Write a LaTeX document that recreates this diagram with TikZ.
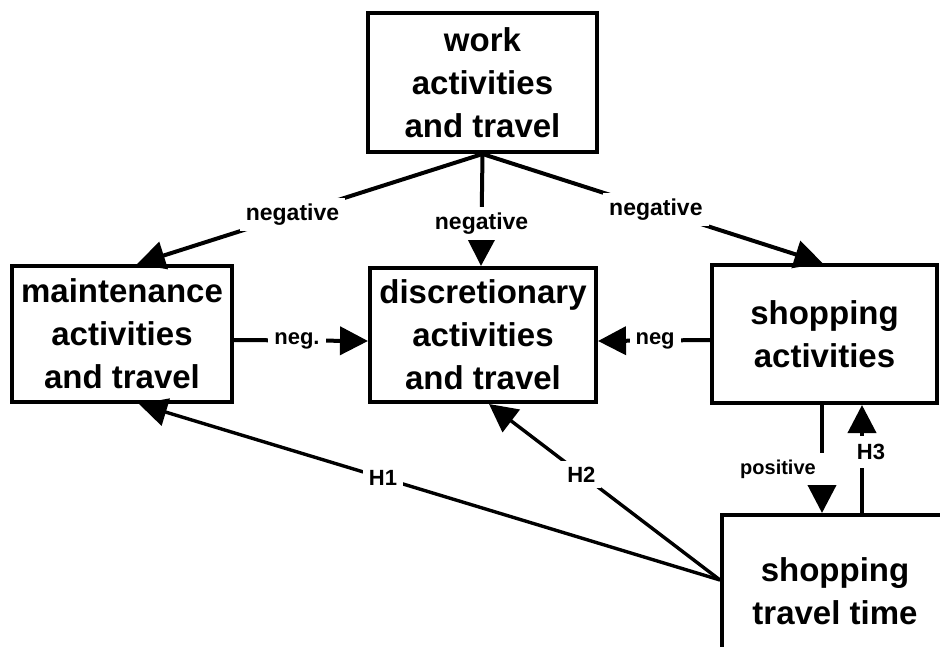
\documentclass[tikz,border=0pt]{standalone}
\usepackage{fontspec}
\setmainfont{Liberation Sans}
\usetikzlibrary{arrows.meta,calc}
\begin{document}
\begin{tikzpicture}[x=1pt,y=-1pt,
  box/.style={draw=black,line width=4pt,align=center,inner sep=0pt,
    font=\fontsize{33}{43}\selectfont\bfseries},
  arr/.style={line width=4pt,-{Triangle[length=28pt,width=28pt]}},
  harr/.style={line width=3.4pt,-{Triangle[length=28pt,width=28pt]}},
  lab/.style={fill=white,inner xsep=6pt,inner ysep=6pt,
    font=\fontsize{22}{24}\selectfont\bfseries}]
\useasboundingbox (0,0) rectangle (940,646);
\clip (0,0) rectangle (940,646);
\fill[white] (0,0) rectangle (940,646);

\node[box,minimum width=229pt,minimum height=139pt] (w) at (482.5,82.5) {work\\activities\\and travel};
\node[box,minimum width=220pt,minimum height=136pt] (m) at (122,334) {maintenance\\activities\\and travel};
\node[box,minimum width=226pt,minimum height=134pt] (d) at (483,335) {discretionary\\activities\\and travel};
\node[box,minimum width=225pt,minimum height=138pt] (s) at (824.5,334) {shopping\\activities};
\node[box,minimum width=226pt,minimum height=152pt] (t) at (835,591) {shopping\\travel time};

\coordinate (hub) at ([yshift=11pt]t.west);

\draw[arr] (w.south) -- node[lab,pos=0.55,font=\fontsize{23}{24}\selectfont\bfseries] {negative} ([xshift=15pt]m.north);
\draw[arr] (w.south) -- node[lab,pos=0.62,font=\fontsize{23}{24}\selectfont\bfseries] {negative} ([xshift=-2pt]d.north);
\draw[arr] (w.south) -- node[lab,pos=0.51,font=\fontsize{23}{24}\selectfont\bfseries] {negative} ([xshift=-2pt]s.north);

\draw[arr] ([yshift=-6pt]m.east) -- node[lab,pos=0.47] {neg.} ([yshift=-6pt]d.west);
\draw[arr] ([yshift=-6pt]s.west) -- node[lab,pos=0.49] {neg} ([yshift=-6pt]d.east);

\draw[arr] ([xshift=-2.5pt]s.south) -- ([xshift=-13pt]t.north);
\node[lab,font=\fontsize{20}{22}\selectfont\bfseries,inner xsep=12pt,inner ysep=7pt] (pos) at (778,469) {positive};
\draw[arr] ([xshift=27pt]t.north) -- ([xshift=37.5pt]s.south);
\node[lab,inner xsep=4pt,inner ysep=8pt] (h3) at (871,452) {H3};

\draw[harr] (hub) -- node[lab,pos=0.58] {H1} ([xshift=17pt]m.south);
\draw[harr] (hub) -- node[lab,pos=0.6] {H2} ([xshift=6pt]d.south);
\end{tikzpicture}
\end{document}
